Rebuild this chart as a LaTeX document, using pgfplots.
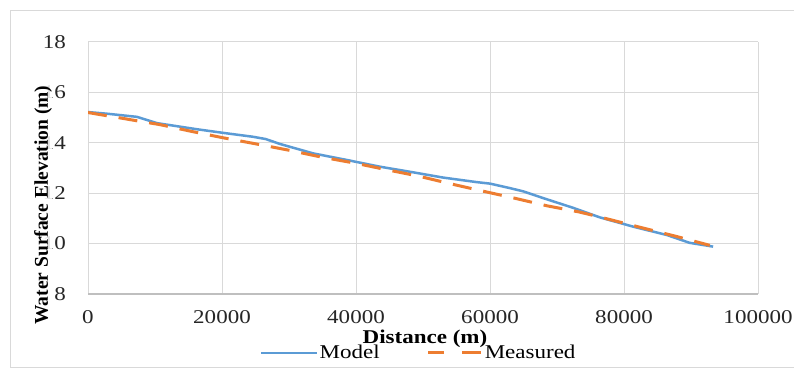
\documentclass[border=0pt]{standalone}
\usepackage{fontspec}
\setmainfont{Liberation Serif}[FakeStretch=1.18]
\newfontfamily\ylfont{Liberation Serif}
\usepackage{pgfplots}
\pgfplotsset{compat=1.18}
\definecolor{modelblue}{HTML}{5B9BD5}
\definecolor{measorange}{HTML}{ED7D31}
\definecolor{gridgray}{HTML}{D9D9D9}
\definecolor{axgray}{HTML}{BFBFBF}
\newcommand{\chartfont}{\fontsize{19.5}{22}\selectfont}
\begin{document}
\begin{tikzpicture}[x=1pt,y=1pt]
\useasboundingbox (0,0) rectangle (794,371);
\fill[white] (0,0) rectangle (794,371);
\draw[gridgray, line width=1pt] (10,3) rectangle (805,360);
\begin{axis}[
  at={(88pt,77pt)}, anchor=south west,
  scale only axis, width=670pt, height=252pt,
  xmin=0, xmax=100000, ymin=8, ymax=18,
  xtick={0,20000,40000,60000,80000,100000},
  xticklabels={0,20000,40000,60000,80000,100000},
  ytick={8,10,12,14,16,18},
  yticklabels={8,10,12,14,16,18},
  scaled ticks=false,
  axis x line*=bottom, axis y line*=left,
  x axis line style={draw=axgray, line width=1.5pt},
  y axis line style={draw=none},
  grid=major, major grid style={draw=gridgray, line width=1pt},
  major tick length=0pt,
  tick label style={font=\chartfont, text=black!85},
  yticklabel style={anchor=east, inner sep=0pt, xshift=-22pt},
  xticklabel style={anchor=north, inner sep=0pt, yshift=-16pt},
  xlabel={\textbf{Distance (m)}},
  xlabel style={font=\chartfont, at={(axis description cs:0.503,-0.179)}, anchor=center, inner sep=0pt},
  ylabel={\ylfont\bfseries Water Surface Elevation (m)},
  ylabel style={font=\chartfont, at={(axis description cs:-0.0672,0.353)}, anchor=center, inner sep=0.5pt, fill=white, fill opacity=0.85, text opacity=1},
  legend columns=2,
  legend style={draw=none, fill=none, font=\chartfont, inner sep=0pt,
    at={(axis description cs:0.2567,-0.234)}, anchor=west,
    /tikz/every even column/.append style={column sep=46pt},
    nodes={inner sep=1pt}},
  legend cell align=left,
]
\addplot[modelblue, line width=2.5pt, line join=round,
  legend image code/.code={\draw[modelblue, line width=2.5pt] (0pt,0pt) -- (56pt,0pt);}]
coordinates {
(0,15.22) (3000,15.15) (7300,15.03) (10300,14.78) (16200,14.54) (20000,14.40)
(24600,14.24) (26500,14.15) (28700,13.95) (33600,13.58) (38600,13.32) (43600,13.05)
(48500,12.83) (53000,12.62) (58000,12.44) (60000,12.38) (63000,12.20) (65000,12.07)
(68000,11.80) (72400,11.42) (76400,11.04) (81400,10.67) (86400,10.34) (89800,10.03)
(93300,9.88)
};
\addlegendentry{Model}
\addplot[measorange, line width=3pt, dash pattern=on 19pt off 12pt,
  legend image code/.code={\draw[measorange, line width=3pt] (0pt,0pt) -- (16pt,0pt); \draw[measorange, line width=3pt] (34pt,0pt) -- (54pt,0pt);}]
coordinates {
(0,15.2) (10750,14.72) (15500,14.45) (20150,14.20) (25200,13.95) (29900,13.71)
(34900,13.43) (39900,13.19) (44600,12.93) (49300,12.68) (54000,12.38) (58800,12.09)
(63700,11.80) (68500,11.50) (73400,11.25) (78100,10.94) (82800,10.62) (87600,10.30)
(92800,9.93)
};
\addlegendentry{Measured}
\end{axis}
\end{tikzpicture}
\end{document}
